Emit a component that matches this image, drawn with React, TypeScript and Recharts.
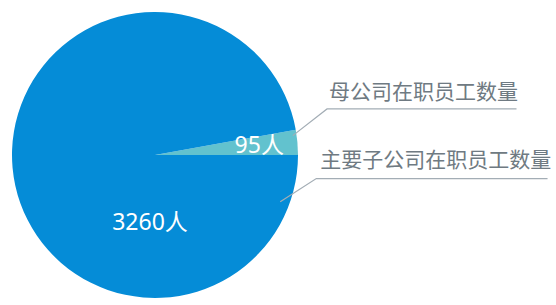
import { PieChart, Pie, Cell } from 'recharts';

const names = ['母公司在职员工数量', '主要子公司在职员工数量'];
const values = [95, 3260];
const units = '人';
const colors = ['#62C2CE', '#058CD7'];

// 标签位置（相对圆心，半径倍数 / 角度）
const SPOTS = [
  { vAngle: 6, vR: 0.733, lAngle: 8, lR: 0.973, elbowDx: 1.203, elbowDy: -0.322, endDx: 2.528, textDx: 2, textDy: -9.5 },
  { vAngle: -94.3, vR: 0.464, lAngle: -20.5, lR: 0.935, elbowDx: 1.128, elbowDy: 0.165, endDx: 2.745, textDx: 4, textDy: -12 },
];

const FONT = '"Noto Sans", "Noto Sans CJK SC", sans-serif';

const data = names.map((name, i) => ({ name, value: values[i] }));

const RAD = Math.PI / 180;
const polar = (cx: number, cy: number, r: number, a: number) => ({
  x: cx + r * Math.cos(-a * RAD),
  y: cy + r * Math.sin(-a * RAD),
});

const renderLabel = (props: any) => {
  const { cx, cy, outerRadius, index, value, name } = props;
  const s = SPOTS[index];
  const v = polar(cx, cy, outerRadius * s.vR, s.vAngle);
  const start = polar(cx, cy, outerRadius * s.lR, s.lAngle);
  const elbow = { x: cx + outerRadius * s.elbowDx, y: cy + outerRadius * s.elbowDy };
  const endX = cx + outerRadius * s.endDx;
  return (
    <g>
      <text
        x={v.x}
        y={v.y}
        fill="#fff"
        fontSize={23}
        fontFamily={FONT}
        textAnchor="middle"
        dominantBaseline="central"
      >
        {`${value}${units}`}
      </text>
      <polyline
        points={`${start.x},${start.y} ${elbow.x},${elbow.y} ${endX},${elbow.y}`}
        fill="none"
        stroke="#A3ADB5"
        strokeWidth={1.2}
      />
      <text
        x={elbow.x + s.textDx}
        y={elbow.y + s.textDy}
        fill="#6F7A82"
        fontSize={21}
        fontFamily={FONT}
        textAnchor="start"
      >
        {name}
      </text>
    </g>
  );
};

const App = () => {
  return (
    <div style={{ position: 'absolute', left: 0, top: 0, background: '#fff' }}>
      <PieChart width={556} height={305} margin={{ top: 0, right: 0, bottom: 0, left: 0 }}>
        <Pie
          data={data}
          dataKey="value"
          cx={155}
          cy={155}
          outerRadius={143}
          startAngle={0}
          endAngle={360}
          stroke="none"
          label={renderLabel}
          labelLine={false}
          isAnimationActive={false}
        >
          {data.map((_, i) => (
            <Cell key={`cell-${i}`} fill={colors[i]} />
          ))}
        </Pie>
      </PieChart>
    </div>
  );
};

export default App;
